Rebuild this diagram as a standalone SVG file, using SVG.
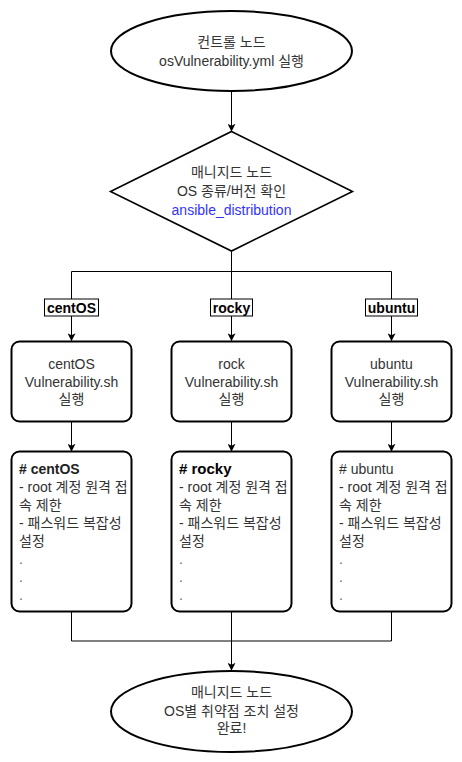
<svg xmlns="http://www.w3.org/2000/svg" width="462" height="762" viewBox="0 0 462 762">
  <defs>
    <style>
      .shape { fill: #ffffff; stroke: #000000; stroke-width: 2; }
      .diam { fill: #ffffff; stroke: #000000; stroke-width: 1.6; }
      .edge { fill: none; stroke: #000000; stroke-width: 1; }
      .lbl { fill: #ffffff; stroke: #000000; stroke-width: 1; }
      text { font-family: "Liberation Sans", "Noto Sans CJK KR", sans-serif; font-size: 14px; fill: #333333; }
      .c { text-anchor: middle; }
      .b { font-weight: bold; fill: #000000; }
      .blue { fill: #3333ff; }
      .dot { fill: #666666; }
    </style>
    <marker id="arr" viewBox="0 0 10 10" refX="9" refY="5" markerWidth="8" markerHeight="8" markerUnits="userSpaceOnUse" orient="auto">
      <path d="M0,0 L10,5 L0,10 L2.5,5 z" fill="#000000"/>
    </marker>
  </defs>

  <g id="connectors">
    <path class="edge" d="M231.5,91 L231.5,131" marker-end="url(#arr)"/>
    <path class="edge" d="M231.5,251 L231.5,271.5 M71.5,271.5 L391.5,271.5 M71.5,271.5 L71.5,299 M231.5,271.5 L231.5,299 M391.5,271.5 L391.5,299"/>
    <path class="edge" d="M71.5,316 L71.5,340.5" marker-end="url(#arr)"/>
    <path class="edge" d="M231.5,316 L231.5,340.5" marker-end="url(#arr)"/>
    <path class="edge" d="M391.5,316 L391.5,340.5" marker-end="url(#arr)"/>
    <path class="edge" d="M71.5,421.5 L71.5,451" marker-end="url(#arr)"/>
    <path class="edge" d="M231.5,421.5 L231.5,451" marker-end="url(#arr)"/>
    <path class="edge" d="M391.5,421.5 L391.5,451" marker-end="url(#arr)"/>
    <path class="edge" d="M71.5,611.5 L71.5,641 L391.5,641 L391.5,611.5"/>
    <path class="edge" d="M231.5,611.5 L231.5,670" marker-end="url(#arr)"/>
  </g>

  <g id="start">
    <ellipse class="shape" cx="231.5" cy="51" rx="120.5" ry="40"/>
    <text class="c" x="231.5" y="47">컨트롤 노드</text>
    <text class="c" x="231.5" y="66">osVulnerability.yml 실행</text>
  </g>

  <g id="decision">
    <polygon class="diam" points="231.5,131.5 352.5,191.5 231.5,251 110.5,191.5"/>
    <text class="c" x="231.5" y="177">매니지드 노드</text>
    <text class="c" x="231.5" y="196">OS 종류/버전 확인</text>
    <text class="c blue" x="231.5" y="215">ansible_distribution</text>
  </g>

  <g id="label-centos">
    <rect class="lbl" x="44.5" y="299" width="54" height="17"/>
    <text class="c b" x="71.5" y="312.5">centOS</text>
  </g>
  <g id="label-rocky">
    <rect class="lbl" x="210.5" y="299" width="42" height="17"/>
    <text class="c b" x="231.5" y="312.5">rocky</text>
  </g>
  <g id="label-ubuntu">
    <rect class="lbl" x="365.5" y="299" width="52" height="17"/>
    <text class="c b" x="391.5" y="312.5">ubuntu</text>
  </g>

  <g id="run-centos">
    <rect class="shape" x="11.5" y="341.5" width="120" height="80" rx="8"/>
    <text class="c" x="71.5" y="369">centOS</text>
    <text class="c" x="71.5" y="386.5">Vulnerability.sh</text>
    <text class="c" x="71.5" y="404">실행</text>
  </g>
  <g id="run-rocky">
    <rect class="shape" x="171.5" y="341.5" width="120" height="80" rx="8"/>
    <text class="c" x="231.5" y="369">rock</text>
    <text class="c" x="231.5" y="386.5">Vulnerability.sh</text>
    <text class="c" x="231.5" y="404">실행</text>
  </g>
  <g id="run-ubuntu">
    <rect class="shape" x="331.5" y="341.5" width="120" height="80" rx="8"/>
    <text class="c" x="391.5" y="369">ubuntu</text>
    <text class="c" x="391.5" y="386.5">Vulnerability.sh</text>
    <text class="c" x="391.5" y="404">실행</text>
  </g>

  <g id="list-centos">
    <rect class="shape" x="11.5" y="451.5" width="120" height="160" rx="8"/>
    <text x="19" y="474" style="font-weight:bold;fill:#222222">#<tspan> centOS</tspan></text>
    <text x="19" y="492">- root 계정 원격 접</text>
    <text x="19" y="510">속 제한</text>
    <text x="19" y="528">- 패스워드 복잡성</text>
    <text x="19" y="546">설정</text>
    <text class="dot" x="19" y="564">.</text>
    <text class="dot" x="19" y="582">.</text>
    <text class="dot" x="19" y="600">.</text>
  </g>
  <g id="list-rocky">
    <rect class="shape" x="171.5" y="451.5" width="120" height="160" rx="8"/>
    <text class="b" x="179" y="474" style="font-size:15px">#<tspan> rocky</tspan></text>
    <text x="179" y="492">- root 계정 원격 접</text>
    <text x="179" y="510">속 제한</text>
    <text x="179" y="528">- 패스워드 복잡성</text>
    <text x="179" y="546">설정</text>
    <text class="dot" x="179" y="564">.</text>
    <text class="dot" x="179" y="582">.</text>
    <text class="dot" x="179" y="600">.</text>
  </g>
  <g id="list-ubuntu">
    <rect class="shape" x="331.5" y="451.5" width="120" height="160" rx="8"/>
    <text x="339" y="474">#<tspan> ubuntu</tspan></text>
    <text x="339" y="492">- root 계정 원격 접</text>
    <text x="339" y="510">속 제한</text>
    <text x="339" y="528">- 패스워드 복잡성</text>
    <text x="339" y="546">설정</text>
    <text class="dot" x="339" y="564">.</text>
    <text class="dot" x="339" y="582">.</text>
    <text class="dot" x="339" y="600">.</text>
  </g>

  <g id="end">
    <ellipse class="shape" cx="231.5" cy="711.5" rx="120.5" ry="40.5"/>
    <text class="c" x="231.5" y="697">매니지드 노드</text>
    <text class="c" x="231.5" y="716">OS별 취약점 조치 설정</text>
    <text class="c" x="231.5" y="733">완료!</text>
  </g>
</svg>
